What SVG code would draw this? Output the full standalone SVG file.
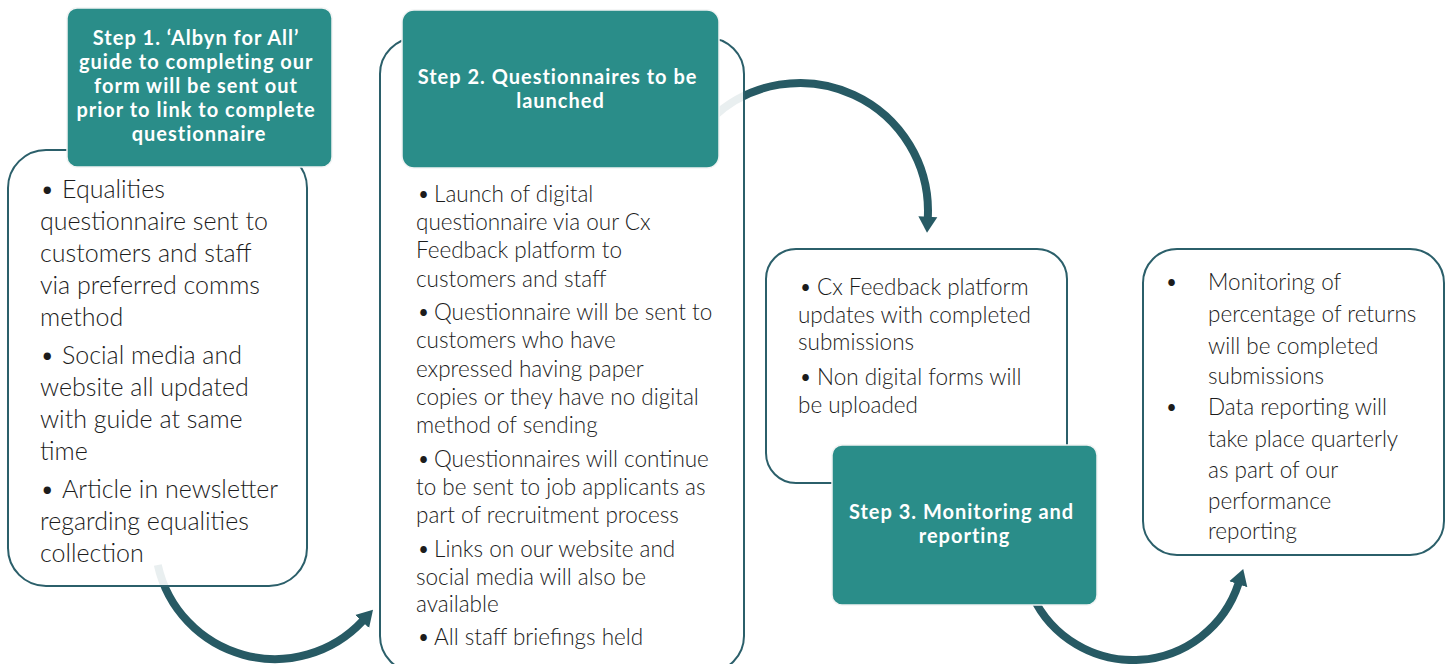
<svg xmlns="http://www.w3.org/2000/svg" width="1451" height="664" viewBox="0 0 1451 664">
  <style>
    .body { fill: #ffffff; fill-opacity: 0.9; stroke: #2b5f6a; stroke-width: 2; }
    .head { fill: #2a8d89; stroke: #f2f4f4; stroke-width: 1.5; }
    .htxt { font-family: "Lato", "Open Sans", sans-serif; font-weight: 700; font-size: 20px; letter-spacing: 1px; fill: #ffffff; text-anchor: middle; }
    .btxt { font-family: "Lato", "Open Sans", sans-serif; font-weight: 300; fill: #1c1c1c; }
    .arc { fill: none; stroke: #275a64; stroke-width: 8; }
  </style>
  <defs>
    <marker id="head" markerUnits="userSpaceOnUse" markerWidth="17" markerHeight="21" viewBox="0 0 17 21" refX="1" refY="10.5" orient="auto">
      <path d="M0,1 L16,10.5 L0,20 Z" fill="#275a64"/>
    </marker>
  </defs>

  <rect width="1451" height="664" fill="#ffffff"/>

  <!-- curved connectors, drawn beneath the translucent boxes -->
  <g id="connectors">
    <path class="arc" d="M157.8,565 A120,120 0 0 0 362.8,620.8" marker-end="url(#head)"/>
    <path class="arc" d="M712,118 A128,128 0 0 1 927.8,217.7" marker-end="url(#head)"/>
    <path class="arc" d="M1032.4,595.9 A111,111 0 0 0 1238.6,583.3" marker-end="url(#head)"/>
  </g>

  <g id="step1">
    <rect class="body" x="8" y="150" width="299" height="436" rx="38"/>
    <rect class="head" x="67" y="8" width="265" height="159" rx="10"/>
    <text class="htxt">
      <tspan x="199" y="45">Step 1. ‘Albyn for All’</tspan>
      <tspan x="199" y="69">guide to completing our</tspan>
      <tspan x="199" y="93">form will be sent out</tspan>
      <tspan x="199" y="117">prior to link to complete</tspan>
      <tspan x="199" y="141">questionnaire</tspan>
    </text>
    <text class="btxt" font-size="25">
      <tspan x="40" y="198">•</tspan><tspan x="62" y="198">Equalities</tspan>
      <tspan x="40" y="230">questionnaire sent to</tspan>
      <tspan x="40" y="262">customers and staff</tspan>
      <tspan x="40" y="294">via preferred comms</tspan>
      <tspan x="40" y="326">method</tspan>
      <tspan x="40" y="364">•</tspan><tspan x="62" y="364">Social media and</tspan>
      <tspan x="40" y="396">website all updated</tspan>
      <tspan x="40" y="428">with guide at same</tspan>
      <tspan x="40" y="460">time</tspan>
      <tspan x="40" y="498">•</tspan><tspan x="62" y="498">Article in newsletter</tspan>
      <tspan x="40" y="530">regarding equalities</tspan>
      <tspan x="40" y="562">collection</tspan>
    </text>
  </g>

  <g id="step2">
    <rect class="body" x="380" y="38" width="364" height="634" rx="36"/>
    <rect class="head" x="402" y="10" width="317" height="158" rx="12"/>
    <text class="htxt">
      <tspan x="560.5" y="84">Step 2. Questionnaires to be</tspan>
      <tspan x="560.5" y="108">launched</tspan>
    </text>
    <text class="btxt" font-size="22.5">
      <tspan x="417" y="202">•</tspan><tspan x="434" y="202">Launch of digital</tspan>
      <tspan x="416" y="230">questionnaire via our Cx</tspan>
      <tspan x="416" y="258">Feedback platform to</tspan>
      <tspan x="416" y="287">customers and staff</tspan>
      <tspan x="417" y="320">•</tspan><tspan x="434" y="320">Questionnaire will be sent to</tspan>
      <tspan x="416" y="348">customers who have</tspan>
      <tspan x="416" y="377">expressed having paper</tspan>
      <tspan x="416" y="405">copies or they have no digital</tspan>
      <tspan x="416" y="433">method of sending</tspan>
      <tspan x="417" y="467">•</tspan><tspan x="434" y="467">Questionnaires will continue</tspan>
      <tspan x="416" y="495">to be sent to job applicants as</tspan>
      <tspan x="416" y="523">part of recruitment process</tspan>
      <tspan x="417" y="557">•</tspan><tspan x="434" y="557">Links on our website and</tspan>
      <tspan x="416" y="585">social media will also be</tspan>
      <tspan x="416" y="612">available</tspan>
      <tspan x="417" y="645">•</tspan><tspan x="434" y="645">All staff briefings held</tspan>
    </text>
  </g>

  <g id="step3">
    <rect class="body" x="766" y="249" width="301" height="234" rx="30"/>
    <rect class="head" x="832" y="445" width="265" height="160" rx="10"/>
    <text class="htxt">
      <tspan x="964.5" y="519">Step 3. Monitoring and</tspan>
      <tspan x="964.5" y="543">reporting</tspan>
    </text>
    <text class="btxt" font-size="22.5">
      <tspan x="799" y="295">•</tspan><tspan x="817" y="295">Cx Feedback platform</tspan>
      <tspan x="798" y="323">updates with completed</tspan>
      <tspan x="798" y="350">submissions</tspan>
      <tspan x="799" y="385">•</tspan><tspan x="817" y="385">Non digital forms will</tspan>
      <tspan x="798" y="413">be uploaded</tspan>
    </text>
  </g>

  <g id="step4">
    <rect class="body" x="1143" y="249" width="301" height="306" rx="34"/>
    <text class="btxt" font-size="22.5">
      <tspan x="1165" y="290">•</tspan><tspan x="1208" y="290">Monitoring of</tspan>
      <tspan x="1208" y="322">percentage of returns</tspan>
      <tspan x="1208" y="354">will be completed</tspan>
      <tspan x="1208" y="384">submissions</tspan>
      <tspan x="1165" y="415">•</tspan><tspan x="1208" y="415">Data reporting will</tspan>
      <tspan x="1208" y="447">take place quarterly</tspan>
      <tspan x="1208" y="478">as part of our</tspan>
      <tspan x="1208" y="509">performance</tspan>
      <tspan x="1208" y="539">reporting</tspan>
    </text>
  </g>
</svg>
